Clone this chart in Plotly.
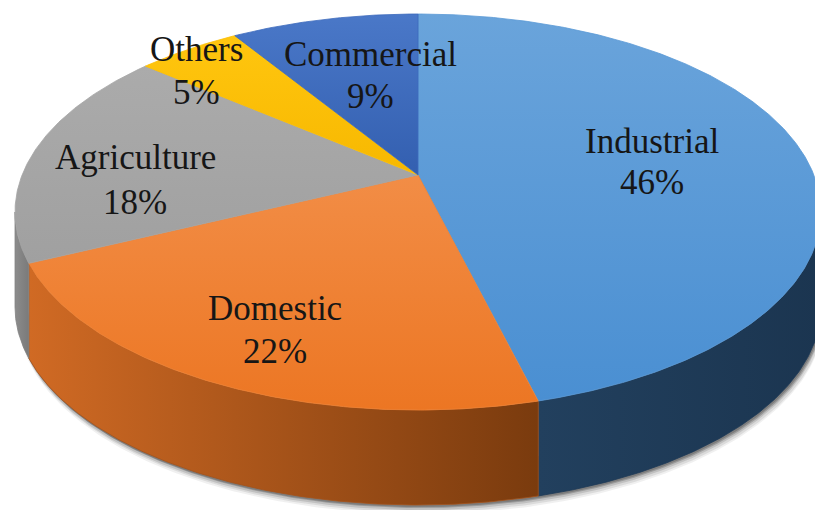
import numpy as np
import plotly.graph_objects as go

# ---- data -------------------------------------------------------------
sectors = ["Industrial", "Domestic", "Agriculture", "Others", "Commercial"]
shares = [46, 22, 18, 5, 9]  # percent, clockwise from 12 o'clock

top_colors = {
    "Industrial": ("#6aa4db", "#4a8fd2"),
    "Domestic": ("#f28d46", "#ec7623"),
    "Agriculture": ("#ababab", "#a0a0a0"),
    "Others": ("#ffc60f", "#f7b800"),
    "Commercial": ("#4a78c8", "#335fb0"),
}
side_colors = {
    "Industrial": ("#22405e", "#1b3550"),
    "Domestic": ("#d06a24", "#7a3b0e"),
    "Agriculture": ("#8c8c8c", "#7a7a7a"),
    "Others": ("#c99600", "#b08200"),
    "Commercial": ("#2c4f8c", "#233f70"),
}

label_pos = {
    "Industrial": (652, 141, 182),
    "Domestic": (275, 308, 351),
    "Agriculture": (135, 157, 202),
    "Others": (196, 49, 92),
    "Commercial": (370, 54, 96),
}

# ---- geometry of the tilted disc (page-pixel units) -------------------
CX, CY = 418.0, 212.0   # centre of the outline ellipse
RX, RY = 403.0, 198.0   # semi-axes of the outline ellipse
DEPTH = 95.0            # thickness of the disc
T = -0.187              # perspective shift of the disc centre
S = np.sqrt(1 - T * T)


def project(theta_deg, r=1.0):
    """Map a point on the flat disc (angle clockwise from top) to the page."""
    th = np.radians(theta_deg)
    px = r * np.sin(th)
    py = -r * np.cos(th)
    den = 1 + T * py
    u = px * S / den
    v = (py + T) / den
    return CX + RX * u, CY + RY * v


def arc(a0, a1, n=None):
    if n is None:
        n = max(int(abs(a1 - a0) * 2), 4)
    angs = np.linspace(a0, a1, n)
    xs, ys = project(angs)
    return np.atleast_1d(xs), np.atleast_1d(ys)


def mix(c0, c1):
    a = [int(c0[i:i + 2], 16) for i in (1, 3, 5)]
    b = [int(c1[i:i + 2], 16) for i in (1, 3, 5)]
    return "#" + "".join(f"{(p + q) // 2:02x}" for p, q in zip(a, b))


# visible front part of the rim: where the projected v >= 0
VIS0 = np.degrees(np.arccos(T))          # ~100.8 deg
VIS1 = 360 - VIS0                        # ~259.2 deg

fig = go.Figure()

# soft drop shadow under the rim
xs_b, ys_b = arc(VIS0 - 15, VIS1 + 15, 300)
for dx, dy, op in [(3, 9, 0.08), (3, 7, 0.12), (2, 5, 0.18), (2, 3, 0.3), (1, 2, 0.35)]:
    fig.add_trace(go.Scatter(
        x=np.concatenate([xs_b + dx, (xs_b + dx)[::-1]]),
        y=np.concatenate([ys_b + DEPTH + dy, (ys_b + DEPTH - 40)[::-1]]),
        fill="toself", mode="lines", line=dict(width=0),
        fillcolor=f"rgba(70,70,70,{op})", hoverinfo="skip", showlegend=False,
    ))

# slice angle ranges
bounds = np.concatenate([[0], np.cumsum(shares)]) * 3.6
ranges = {s: (bounds[i], bounds[i + 1]) for i, s in enumerate(sectors)}

# rim of each slice (only the part facing the viewer)
for s in sectors:
    a0, a1 = ranges[s]
    lo, hi = max(a0, VIS0), min(a1, VIS1)
    if hi <= lo:
        continue
    xs, ys = arc(lo, hi)
    c0, c1 = side_colors[s]
    fig.add_trace(go.Scatter(
        x=np.concatenate([xs, xs[::-1], xs[:1]]),
        y=np.concatenate([ys, ys[::-1] + DEPTH, ys[:1]]),
        fill="toself", mode="lines", line=dict(width=0.8, color=mix(c0, c1)),
        fillgradient=dict(type="horizontal", colorscale=[[0, c0], [1, c1]]),
        hoverinfo="skip", showlegend=False,
    ))

# top face of each slice
cx0, cy0 = project(0.0, 0.0)
for s in sectors:
    a0, a1 = ranges[s]
    xs, ys = arc(a0, a1)
    c0, c1 = top_colors[s]
    fig.add_trace(go.Scatter(
        x=np.concatenate([[cx0], xs, [cx0]]),
        y=np.concatenate([[cy0], ys, [cy0]]),
        fill="toself", mode="lines", line=dict(width=0.8, color=mix(c0, c1)),
        fillgradient=dict(type="vertical", colorscale=[[0, c1], [1, c0]]),
        name=s, hoverinfo="name", showlegend=False,
    ))

# data labels
font = dict(family="Liberation Serif, Times New Roman, serif", size=35, color="#161616")
for s, v in zip(sectors, shares):
    x, y1, y2 = label_pos[s]
    fig.add_annotation(x=x, y=y1, text=s, showarrow=False, font=font,
                       xanchor="center", yanchor="middle")
    fig.add_annotation(x=x, y=y2, text=f"{v}%", showarrow=False, font=font,
                       xanchor="center", yanchor="middle")

fig.update_layout(
    width=815, height=510,
    margin=dict(l=0, r=0, t=0, b=0),
    paper_bgcolor="white", plot_bgcolor="white",
    xaxis=dict(range=[0, 815], visible=False, fixedrange=True),
    yaxis=dict(range=[510, 0], visible=False, fixedrange=True),
)

fig.write_html("out.html")
